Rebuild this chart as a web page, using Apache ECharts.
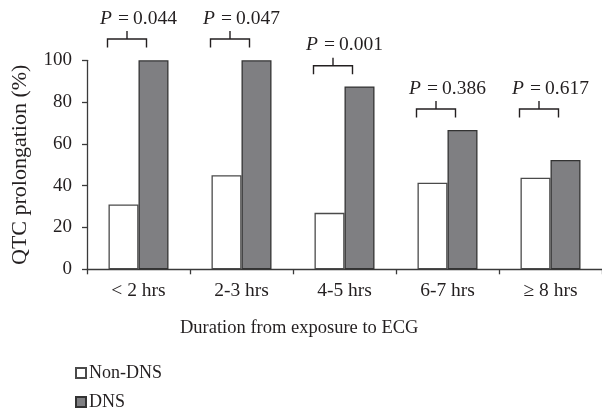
<!DOCTYPE html>
<html>
<head>
<meta charset="utf-8">
<script src="https://cdn.jsdelivr.net/npm/echarts@6/dist/echarts.min.js"></script>
<style>
html,body{margin:0;padding:0;background:#fff;}
#chart{width:602px;height:410px;}
</style>
</head>
<body>
<div id="chart"></div>
<script>
const categories = ['< 2 hrs', '2-3 hrs', '4-5 hrs', '6-7 hrs', '\u2265 8 hrs'];
const nonDNS = [31, 45, 27, 41.4, 43.8];
const dns = [100, 100, 87.5, 66.7, 52.3];
const pValues = ['0.044', '0.047', '0.001', '0.386', '0.617'];
const bracketLevels = [110.2, 110.2, 97.4, 76.7, 76.7];
const yTicks = [0, 20, 40, 60, 80, 100];

const FONT = '"Liberation Serif", "DejaVu Serif", serif';
const TXT = '#231f20';
const LINE = '#3a3a3a';

const chart = echarts.init(document.getElementById('chart'), null, {renderer: 'canvas'});

const option = {
  animation: false,
  backgroundColor: '#fff',
  textStyle: {fontFamily: FONT, color: TXT},
  grid: {left: 87, top: 60.3, width: 517, height: 209},
  legend: {
    data: ['Non-DNS', 'DNS'],
    orient: 'vertical',
    left: 75,
    top: 364,
    height: 80,
    padding: 0,
    itemWidth: 10,
    itemHeight: 10,
    itemGap: 11,
    icon: 'rect',
    textStyle: {fontFamily: FONT, fontSize: 18, color: TXT, lineHeight: 18, padding: [0, 0, 0, -2]},
  },
  graphic: [{
    type: 'text',
    left: 180,
    top: 319,
    style: {text: 'Duration from exposure to ECG', font: '18.5px ' + FONT, fill: TXT}
  }],
  xAxis: {
    type: 'category',
    data: categories,
    axisLine: {lineStyle: {color: LINE, width: 1.3}},
    axisTick: {show: true, length: 5, lineStyle: {color: LINE, width: 1.3}},
    axisLabel: {fontFamily: FONT, fontSize: 19.5, color: TXT, margin: 12},
  },
  yAxis: {
    type: 'value',
    min: yTicks[0],
    max: yTicks[yTicks.length - 1],
    interval: 20,
    name: 'QTC prolongation (%)',
    nameLocation: 'middle',
    nameGap: 56,
    nameTextStyle: {fontFamily: FONT, fontSize: 22, color: TXT},
    splitLine: {show: false},
    axisLine: {show: true, lineStyle: {color: LINE, width: 1.3}},
    axisTick: {show: true, length: 5, lineStyle: {color: LINE, width: 1.3}},
    axisLabel: {fontFamily: FONT, fontSize: 19, color: TXT, margin: 15},
  },
  series: [
    {
      name: 'Non-DNS',
      type: 'bar',
      data: nonDNS,
      barWidth: 30,
      barGap: '0%',
      itemStyle: {color: '#ffffff', borderColor: '#4a4a4a', borderWidth: 1.3},
    },
    {
      name: 'DNS',
      type: 'bar',
      data: dns,
      barWidth: 30,
      barGap: '0%',
      itemStyle: {color: '#7f7f82', borderColor: '#333333', borderWidth: 1.3},
    },
    {
      name: 'brackets',
      type: 'custom',
      clip: false,
      z: 10,
      encode: {x: 0, y: 1},
      data: bracketLevels.map((v, i) => [i, v]),
      renderItem: function (params, api) {
        const i = api.value(0);
        const p = api.coord([i, api.value(1)]);
        const cx = p[0], y = p[1];
        const x1 = cx - 31, x2 = cx + 8, xm = cx - 11.5;
        const ls = {stroke: '#231f20', lineWidth: 1.4, fill: null};
        return {
          type: 'group',
          children: [
            {type: 'polyline', shape: {points: [[x1, y + 8.5], [x1, y], [x2, y], [x2, y + 8.5]]}, style: ls},
            {type: 'line', shape: {x1: xm, y1: y, x2: xm, y2: y - 8}, style: ls},
            {
              type: 'text',
              style: {
                x: cx, y: y - 10.5,
                text: '{i|P}{e|=}' + pValues[params.dataIndex],
                align: 'center',
                verticalAlign: 'bottom',
                fontFamily: FONT,
                fontSize: 19.5,
                fill: TXT,
                rich: {
                  i: {fontStyle: 'italic', fontFamily: FONT, fontSize: 19.5, fill: TXT},
                  e: {fontFamily: FONT, fontSize: 19.5, fill: TXT, padding: [0, 4, 0, 6]}
                }
              }
            }
          ]
        };
      }
    }
  ]
};
chart.setOption(option);
</script>
</body>
</html>
